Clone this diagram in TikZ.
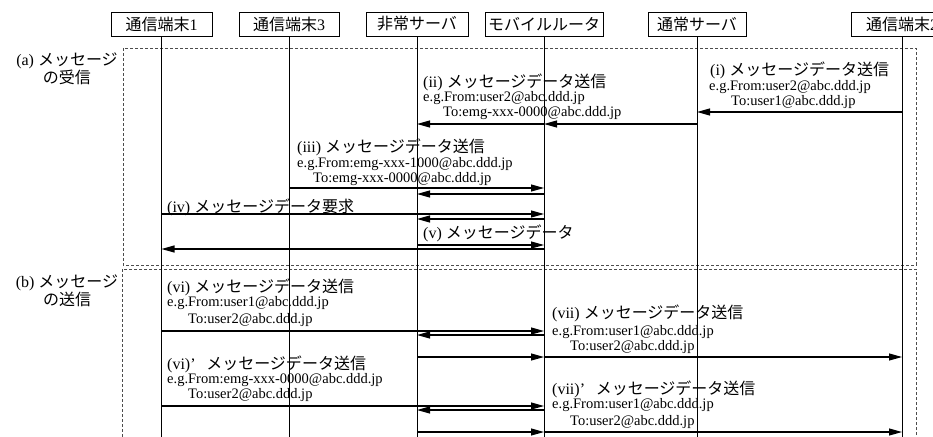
\documentclass[tikz,border=0pt]{standalone}
\usepackage{fontspec}
\setmainfont{Liberation Serif}
\newfontfamily\jpfont{Noto Sans CJK JP}
\newcommand\jtxt[1]{{\jpfont #1}}
\usetikzlibrary{arrows.meta}
\tikzset{
  head/.style={draw, line width=0.9pt, minimum width=#1, minimum height=24pt, inner sep=0pt, font=\fontsize{16}{18}\selectfont},
  life/.style={line width=1pt},
  msg/.style={line width=1.1pt, -{Triangle[length=13pt,width=7pt]}},
  lbl/.style={anchor=west, inner sep=0pt, font=\fontsize{16}{18}\selectfont},
  sml/.style={anchor=west, inner sep=0pt, font=\fontsize{14.5}{16}\selectfont},
  grp/.style={draw=black!70, line width=0.7pt, dash pattern=on 3pt off 2pt},
  glbl/.style={align=center, inner sep=0pt, font=\fontsize{16}{18}\selectfont},
}
\begin{document}
\begin{tikzpicture}[x=1pt,y=-1pt]
\useasboundingbox (0,0) rectangle (933,436);
\clip (0,0) rectangle (933,436);
\fill[white] (0,0) rectangle (933,436);

% group boxes
\draw[grp] (123,48) rectangle (916,265);
\draw[grp] (122,269) rectangle (916,445);
\node[glbl] (ga) at (67,69) {(a) \jtxt{メッセージ}\\\jtxt{の受信}};
\node[glbl] (gb) at (67,291) {(b) \jtxt{メッセージ}\\\jtxt{の送信}};

% headers
\node[head=101pt] (t1) at (161.5,24) {\jtxt{通信端末}1};
\node[head=100pt] (t3) at (289,24) {\jtxt{通信端末}3};
\node[head=102pt] (es) at (417,24) {\jtxt{非常サーバ}};
\node[head=118pt] (mr) at (544,24) {\jtxt{モバイルルータ}};
\node[head=98pt] (ns) at (697,24) {\jtxt{通常サーバ}};
\node[head=102pt] (t2) at (902,24) {\jtxt{通信端末}2};

% lifelines
\foreach \n in {t1,t3,es,mr,ns,t2}{
  \coordinate (\n-end) at (\n.south |- 0,440);
  \draw[life] (\n.south) -- (\n-end);
}

% (i)
\node[lbl] (m1) at (710,70) {(i) \jtxt{メッセージデータ送信}};
\node[sml] (m1a) at (709,87) {e.g.From:user2@abc.ddd.jp};
\node[sml] (m1b) at (731,102) {To:user1@abc.ddd.jp};
\draw[msg] (t2 |- 0,112) -- (ns |- 0,112);

% (ii)
\node[lbl] (m2) at (423,82) {(ii) \jtxt{メッセージデータ送信}};
\node[sml] (m2a) at (423,98) {e.g.From:user2@abc.ddd.jp};
\node[sml] (m2b) at (443,113) {To:emg-xxx-0000@abc.ddd.jp};
\draw[msg] (ns |- 0,124) -- (mr |- 0,124);
\draw[msg] (mr |- 0,124) -- (es |- 0,124);

% (iii)
\node[lbl] (m3) at (297,147) {(iii) \jtxt{メッセージデータ送信}};
\node[sml] (m3a) at (297,164) {e.g.From:emg-xxx-1000@abc.ddd.jp};
\node[sml] (m3b) at (313,179) {To:emg-xxx-0000@abc.ddd.jp};
\draw[msg] (t3 |- 0,188) -- (mr |- 0,188);
\draw[msg] (mr |- 0,194) -- (es |- 0,194);

% (iv)
\node[lbl] (m4) at (167,207) {(iv) \jtxt{メッセージデータ要求}};
\draw[msg] (t1 |- 0,214) -- (mr |- 0,214);
\draw[msg] (mr |- 0,219) -- (es |- 0,219);

% (v)
\node[lbl] (m5) at (423,233) {(v) \jtxt{メッセージデータ}};
\draw[msg] (es |- 0,245) -- (mr |- 0,245);
\draw[msg] (mr |- 0,249) -- (t1 |- 0,249);

% (vi)
\node[lbl] (m6) at (167,287) {(vi) \jtxt{メッセージデータ送信}};
\node[sml] (m6a) at (167,303) {e.g.From:user1@abc.ddd.jp};
\node[sml] (m6b) at (188,320) {To:user2@abc.ddd.jp};
\draw[msg] (t1 |- 0,331) -- (mr |- 0,331);
\draw[msg] (mr |- 0,335) -- (es |- 0,335);
\draw[msg] (es |- 0,357) -- (mr |- 0,357);
\draw[msg] (mr |- 0,357) -- (t2 |- 0,357);

% (vii)
\node[lbl] (m7) at (552,313) {(vii) \jtxt{メッセージデータ送信}};
\node[sml] (m7a) at (552,332) {e.g.From:user1@abc.ddd.jp};
\node[sml] (m7b) at (570,347) {To:user2@abc.ddd.jp};

% (vi)'
\node[lbl] (m8) at (167,364) {(vi)\makebox[1em][l]{’}\jtxt{メッセージデータ送信}};
\node[sml] (m8a) at (167,380) {e.g.From:emg-xxx-0000@abc.ddd.jp};
\node[sml] (m8b) at (188,395) {To:user2@abc.ddd.jp};
\draw[msg] (t1 |- 0,406) -- (mr |- 0,406);
\draw[msg] (mr |- 0,410) -- (es |- 0,410);
\draw[msg] (es |- 0,432) -- (mr |- 0,432);
\draw[msg] (mr |- 0,432) -- (t2 |- 0,432);

% (vii)'
\node[lbl] (m9) at (552,389) {(vii)\makebox[1em][l]{’}\jtxt{メッセージデータ送信}};
\node[sml] (m9a) at (552,405) {e.g.From:user1@abc.ddd.jp};
\node[sml] (m9b) at (570,422) {To:user2@abc.ddd.jp};
\end{tikzpicture}
\end{document}
